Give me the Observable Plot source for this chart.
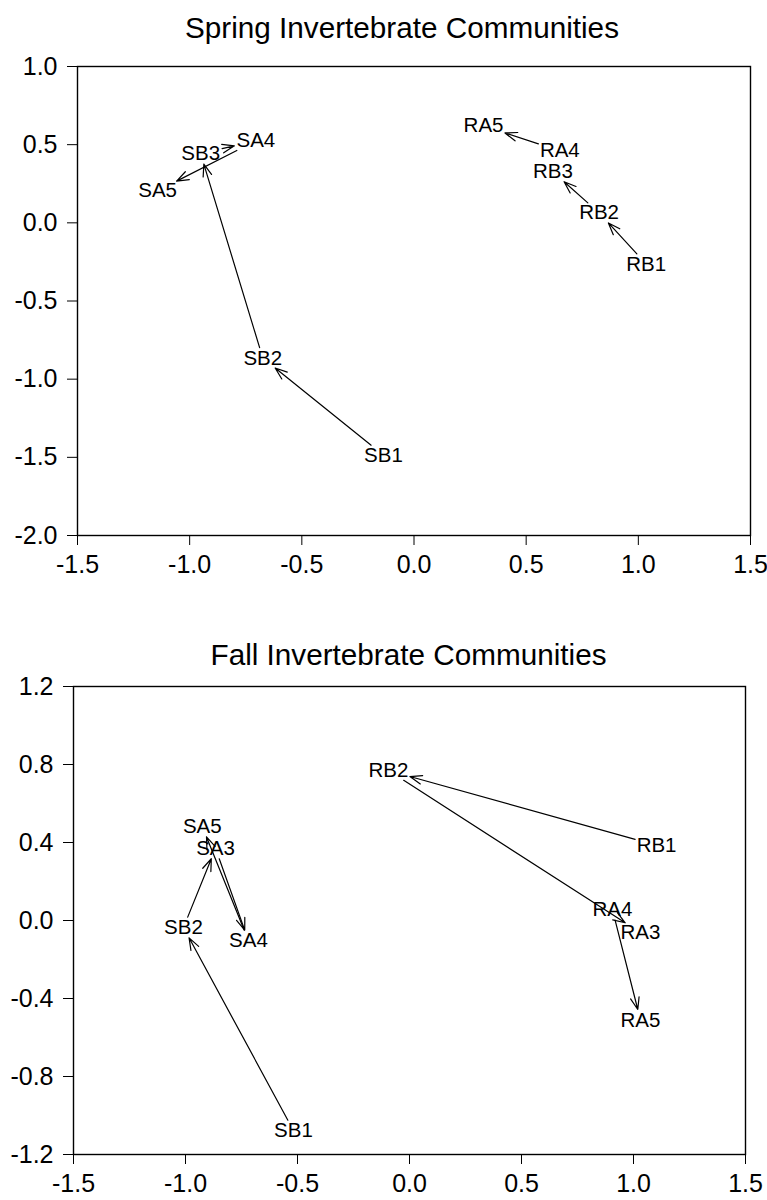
<!DOCTYPE html>
<html>
<head>
<meta charset="utf-8">
<script src="https://cdn.jsdelivr.net/npm/d3@7"></script>
<script src="https://cdn.jsdelivr.net/npm/@observablehq/plot@0.6"></script>
<style>
  body { margin: 0; background: #fff; }
  svg { display: block; }
</style>
</head>
<body>
<div id="chart"></div>
<script>
// ---- Data ----
const xTicks = [-1.5, -1.0, -0.5, 0.0, 0.5, 1.0, 1.5];

// Spring
const springTitle = "Spring Invertebrate Communities";
const springYTicks = [1.0, 0.5, 0.0, -0.5, -1.0, -1.5, -2.0];
const springSite = ["SB1", "SB2", "SB3", "SA4", "SA5", "RB1", "RB2", "RB3", "RA4", "RA5"];
const springX    = [-0.136, -0.674, -0.951, -0.705, -1.143, 1.035, 0.825, 0.619, 0.650, 0.310];
const springY    = [-1.486, -0.865, 0.442, 0.525, 0.205, -0.263, 0.064, 0.327, 0.460, 0.620];
const springFrom = ["SB1", "SB2", "SB3", "SA4", "RB1", "RB2", "RA4"];
const springTo   = ["SB2", "SB3", "SA4", "SA5", "RB2", "RB3", "RA5"];

// Fall
const fallTitle = "Fall Invertebrate Communities";
const fallYTicks = [1.2, 0.8, 0.4, 0.0, -0.4, -0.8, -1.2];
const fallSite = ["SB1", "SB2", "SA3", "SA4", "SA5", "RB1", "RB2", "RA3", "RA4", "RA5"];
const fallX    = [-0.518, -1.009, -0.866, -0.719, -0.925, 1.103, -0.094, 1.031, 0.906, 1.031];
const fallY    = [-1.077, -0.036, 0.370, -0.103, 0.482, 0.385, 0.769, -0.062, 0.056, -0.510];
const fallFrom = ["SB1", "SB2", "SA3", "SA4", "RB1", "RB2", "RA4"];
const fallTo   = ["SB2", "SA3", "SA4", "SA5", "RB2", "RA3", "RA5"];

// ---- Drawing ----
const FONT = "'Liberation Sans', Arial, Helvetica, sans-serif";
const fmt = d => d.toFixed(1);

function panel(o) {
  const W = 767, H = 600;
  const pts = o.sites.map((s, i) => ({site: s, x: o.xs[i], y: o.ys[i]}));
  const byName = new Map(pts.map(p => [p.site, p]));
  const kx = (W - o.mL - o.mR) / 3;
  const ky = (H - o.mT - o.mB) / (o.yDomain[1] - o.yDomain[0]);
  const hw = 20, hh = 9, gap = 1.5;
  const exitDist = (ux, uy) =>
    Math.min(ux ? hw / Math.abs(ux) : Infinity, uy ? hh / Math.abs(uy) : Infinity) + gap;

  const arrows = o.from.map((f, i) => {
    const a = byName.get(f), b = byName.get(o.to[i]);
    const dx = (b.x - a.x) * kx, dy = -(b.y - a.y) * ky;
    const L = Math.hypot(dx, dy);
    const e = exitDist(dx / L, dy / L);
    return Plot.arrow([{x1: a.x, y1: a.y, x2: b.x, y2: b.y}], {
      x1: "x1", y1: "y1", x2: "x2", y2: "y2",
      insetStart: e, insetEnd: e,
      stroke: "black", strokeWidth: 1.2,
      headLength: 16, headAngle: 40
    });
  });

  return Plot.plot({
    width: W, height: H,
    marginLeft: o.mL, marginRight: o.mR, marginTop: o.mT, marginBottom: o.mB,
    style: {fontFamily: FONT, fontSize: "25px", color: "black", background: "white", overflow: "visible"},
    x: {domain: [-1.5, 1.5], ticks: xTicks, tickFormat: fmt, tickSize: 10, tickPadding: 10, label: null},
    y: {domain: o.yDomain, ticks: o.yTicks, tickFormat: fmt, tickSize: 10, tickPadding: 10, label: null},
    marks: [
      Plot.frame({stroke: "black", strokeWidth: 1.4}),
      ...arrows,
      Plot.text(pts, {x: "x", y: "y", text: "site", fontSize: 20.5, fill: "black", fontFamily: FONT}),
      Plot.text([o.title], {frameAnchor: "top", dx: o.titleDx, dy: o.titleDy, text: d => d,
        fontSize: 29.7, fill: "black", fontFamily: FONT, lineAnchor: "middle"})
    ]
  });
}

const root = document.getElementById("chart");
root.appendChild(panel({
  title: springTitle, titleDx: -12, titleDy: -38,
  sites: springSite, xs: springX, ys: springY, from: springFrom, to: springTo,
  yDomain: [-2.0, 1.0], yTicks: springYTicks,
  mL: 77, mR: 17, mT: 66, mB: 65
}));
root.appendChild(panel({
  title: fallTitle, titleDx: -1, titleDy: -31,
  sites: fallSite, xs: fallX, ys: fallY, from: fallFrom, to: fallTo,
  yDomain: [-1.2, 1.2], yTicks: fallYTicks,
  mL: 73, mR: 22, mT: 86, mB: 46
}));
</script>
</body>
</html>
